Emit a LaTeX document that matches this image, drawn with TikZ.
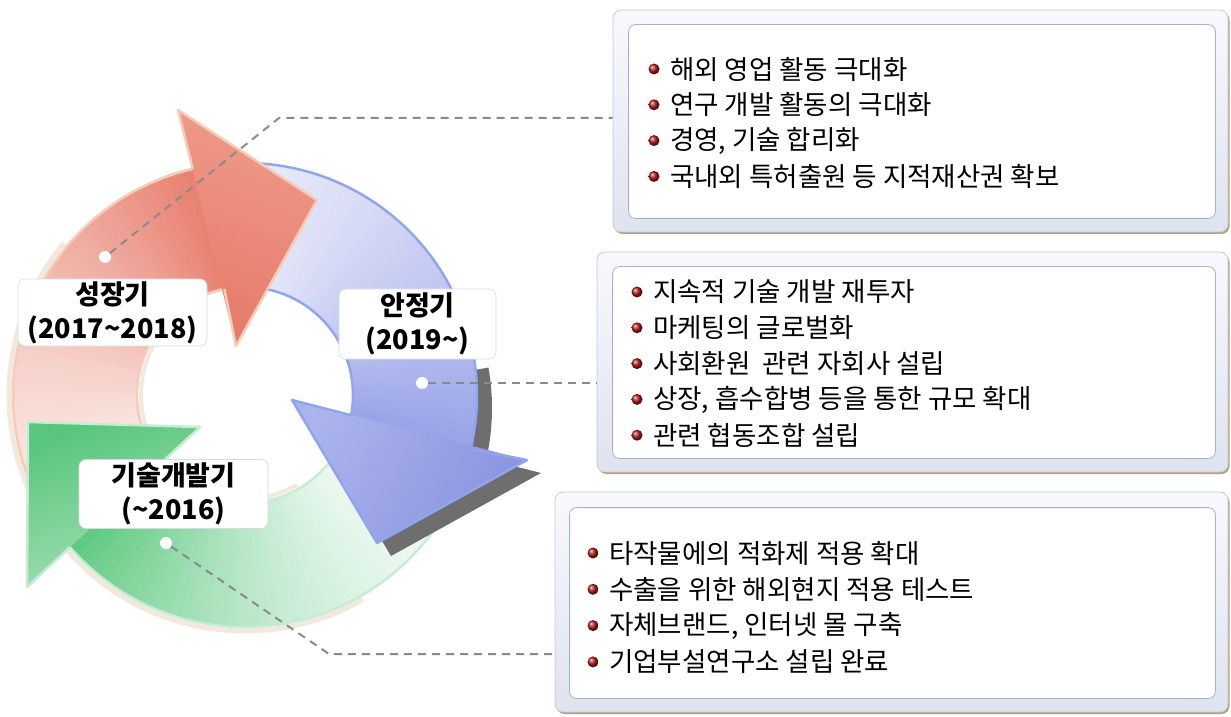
\documentclass[tikz,border=0pt]{standalone}
\usepackage{fontspec}
\setmainfont{Noto Sans CJK KR}
\usetikzlibrary{calc,shadings,shadows}

\definecolor{redA}{HTML}{FBEDEA}
\definecolor{redB}{HTML}{E8806F}
\definecolor{redLine}{HTML}{F4CDB4}
\definecolor{redHA}{HTML}{EF9A8B}
\definecolor{redHB}{HTML}{E67B6A}
\definecolor{bluA}{HTML}{F1F3FB}
\definecolor{bluB}{HTML}{98A2E8}
\definecolor{bluLine}{HTML}{8EA6EE}
\definecolor{bluHA}{HTML}{ABB3EC}
\definecolor{bluHB}{HTML}{8A93E0}
\definecolor{grnA}{HTML}{F5FBF7}
\definecolor{grnB}{HTML}{5EC980}
\definecolor{grnLine}{HTML}{C6ECD2}
\definecolor{grnHA}{HTML}{5AC67C}
\definecolor{grnHB}{HTML}{A6E0B9}
\definecolor{shadowgray}{HTML}{6E6E6E}
\definecolor{dashgray}{HTML}{8A8A8A}
\definecolor{frameA}{HTML}{F8F9FD}
\definecolor{frameB}{HTML}{DDE3EF}
\definecolor{frameLine}{HTML}{C3CAD9}
\definecolor{frameShadow}{HTML}{B39570}
\definecolor{innerLine}{HTML}{A9B2C4}
\definecolor{beige}{HTML}{F2E8DD}
\definecolor{bulletred}{HTML}{B01818}

% #1 start angle, #2 end outer, #3 end inner, #4 light colour, #5 strong colour,
% #6 slices, #7 first slice, #8 last slice, #9 exponent
\newcommand\ringshaft[9]{%
  \foreach \i in {#7,...,#8}{%
    \pgfmathsetmacro\oA{#1+(#2-#1)*(\i-1)/#6}%
    \pgfmathsetmacro\oB{#1+(#2-#1)*\i/#6-0.5}%
    \pgfmathsetmacro\iA{#1+(#3-#1)*(\i-1)/#6}%
    \pgfmathsetmacro\iB{#1+(#3-#1)*\i/#6-0.5}%
    \pgfmathtruncatemacro\p{100*((\i-0.5)/#6)^#9}%
    \fill[#5!\p!#4] ($(C)+(\oA:232)$) arc[start angle=\oA,end angle=\oB,radius=232]
      -- ($(C)+(\iB:108)$) arc[start angle=\iB,end angle=\iA,radius=108] -- cycle;
  }}

\begin{document}
\begin{tikzpicture}[x=1pt,y=1pt,
  lbl/.style={draw=frameLine!70, line width=0.6, fill=white, rounded corners=7,
    align=center, inner sep=0, font=\bfseries\fontsize{27}{34}\selectfont},
  dotnode/.style={circle, fill=white, inner sep=0, minimum size=12},
  dashline/.style={dashgray, line width=2, dash pattern=on 8pt off 6pt},
  frame/.style={draw=frameLine, line width=0.8, rounded corners=8, inner sep=0,
    top color=frameA, bottom color=frameB,
    drop shadow={shadow xshift=1.5pt, shadow yshift=-2pt, fill=frameShadow, opacity=0.9}},
  inner/.style={draw=innerLine, line width=0.8, fill=white, rounded corners=7},
  itemtext/.style={anchor=west, inner sep=0, font=\fontsize{26.5}{30}\selectfont},
  ball/.style={ball color=bulletred}
]
\useasboundingbox (0,0) rectangle (1231,716);
\coordinate (C) at (245,321);
\coordinate (Cs) at (259,308);

% faint beige rim
\draw[beige, line width=5] ($(C)+(140:236)$) arc[start angle=140,end angle=300,radius=236];
\draw[beige, line width=4] ($(C)+(140:104)$) arc[start angle=140,end angle=300,radius=104];

% blue shaft (first part)
\ringshaft{110}{-13.5}{-10.8}{bluA}{bluB}{60}{1}{45}{1.4}
\draw[bluLine, line width=2.5] ($(C)+(110:232)$) arc[start angle=110,end angle=18,radius=232];
\draw[bluLine, line width=2.5] ($(C)+(110:108)$) arc[start angle=110,end angle=18,radius=108];

% red shaft
\ringshaft{215}{103}{101}{redA}{redB}{50}{1}{50}{1.4}
\draw[redLine, line width=2.5] ($(C)+(215:232)$) arc[start angle=215,end angle=103,radius=232];
\draw[redLine, line width=2.5] ($(C)+(215:108)$) arc[start angle=215,end angle=101,radius=108];

% green shaft
\ringshaft{-14}{-139}{-141}{grnA}{grnB}{50}{1}{50}{1.8}
\draw[grnLine, line width=2.5] ($(C)+(-14:232)$) arc[start angle=-14,end angle=-139,radius=232];
\draw[grnLine, line width=2.5] ($(C)+(-14:108)$) arc[start angle=-14,end angle=-141,radius=108];

% blue shadow
\fill[shadowgray] ($(Cs)+(10:233)$) arc[start angle=10,end angle=-13.5,radius=233]
  -- ($(Cs)+(-10.8:108)$) arc[start angle=-10.8,end angle=10,radius=108] -- cycle;
\fill[shadowgray] (306,303) -- (391,160) -- (541,243) -- cycle;

% blue shaft (second part)
\ringshaft{110}{-13.5}{-10.8}{bluA}{bluB}{60}{45}{60}{1.4}
\draw[bluLine, line width=2.5] ($(C)+(22:232)$) arc[start angle=22,end angle=-13.5,radius=232];
\draw[bluLine, line width=2.5] ($(C)+(22:108)$) arc[start angle=22,end angle=-10.8,radius=108];

% green head
\shade[left color=grnHA, right color=grnHB, shading angle=20]
  (28,294) -- (200,289) -- (27,129) -- cycle;
\draw[grnLine, line width=2.5, line join=round]
  ($(C)+(-141:108)$) -- (200,289) -- (28,294) -- (27,129) -- ($(C)+(-139:232)$);

% red head
\shade[left color=redHA, right color=redHB, shading angle=-20]
  (178,606) -- (317,516) -- (236,370) -- cycle;
\draw[redLine, line width=2.5, line join=round]
  ($(C)+(103:232)$) -- (178,606) -- (317,516) -- (236,370) -- ($(C)+(101:108)$);

% blue head
\shade[left color=bluHA, right color=bluHB, shading angle=60]
  (292,316) -- (377,173) -- (527,256) -- cycle;
\draw[bluLine, line width=2.5, line join=round]
  ($(C)+(-10.8:108)$) -- (292,316) -- (377,173) -- (527,256) -- ($(C)+(-13.5:232)$);

% phase labels
\node[lbl, minimum width=189, minimum height=67] (l1) at (112.5,403.5) {성장기\\(2017\textasciitilde 2018)};
\node[lbl, minimum width=157, minimum height=70] (l2) at (417.5,392) {안정기\\(2019\textasciitilde)};
\node[lbl, minimum width=189, minimum height=69] (l3) at (173.5,222) {기술개발기\\(\textasciitilde 2016)};

% dots
\node[dotnode] (d1) at (105,459) {};
\node[dotnode] (d2) at (422,333) {};
\node[dotnode] (d3) at (166,173) {};
\coordinate (k1) at (279,598);
\coordinate (k3) at (329,62);

% boxes
\node[frame, minimum width=615, minimum height=222] (box1) at (920.5,595) {};
\node[frame, minimum width=631, minimum height=220] (box2) at (912.5,354) {};
\node[frame, minimum width=673, minimum height=220] (box3) at (891.5,114) {};
\draw[inner] ([shift={(16,-15)}]box1.north west) rectangle ([shift={(-13,14)}]box1.south east);
\draw[inner] ([shift={(16,-15)}]box2.north west) rectangle ([shift={(-13,14)}]box2.south east);
\draw[inner] ([shift={(15,-16)}]box3.north west) rectangle ([shift={(-13,14)}]box3.south east);

% connectors
\draw[dashline] (d1) -- (k1) -- (k1 -| box1.west);
\draw[dashline] (d2) -- (d2 -| box2.west);
\draw[dashline] (d3) -- (k3) -- (k3 -| box3.west);

% items
\foreach \t [count=\k, evaluate=\k as \yy using 647-(\k-1)*35.8] in
  {해외 영업 활동 극대화, 연구 개발 활동의 극대화, {경영, 기술 합리화}, 국내외 특허출원 등 지적재산권 확보}{
  \shade[ball] (654,\yy) circle (5.5);
  \node[itemtext] (a\k) at (670,\yy) {\t};
}
\foreach \t [count=\k, evaluate=\k as \yy using 424-(\k-1)*35.8] in
  {지속적 기술 개발 재투자, 마케팅의 글로벌화, 사회환원~~관련 자회사 설립, {상장, 흡수합병 등을 통한 규모 확대}, 관련 협동조합 설립}{
  \shade[ball] (637,\yy) circle (5.5);
  \node[itemtext] (b\k) at (653,\yy) {\t};
}
\foreach \t [count=\k, evaluate=\k as \yy using 163-(\k-1)*36.3] in
  {타작물에의 적화제 적용 확대, 수출을 위한 해외현지 적용 테스트, {자체브랜드, 인터넷 몰 구축}, 기업부설연구소 설립 완료}{
  \shade[ball] (593,\yy) circle (5.5);
  \node[itemtext] (c\k) at (609,\yy) {\t};
}
\end{tikzpicture}
\end{document}
